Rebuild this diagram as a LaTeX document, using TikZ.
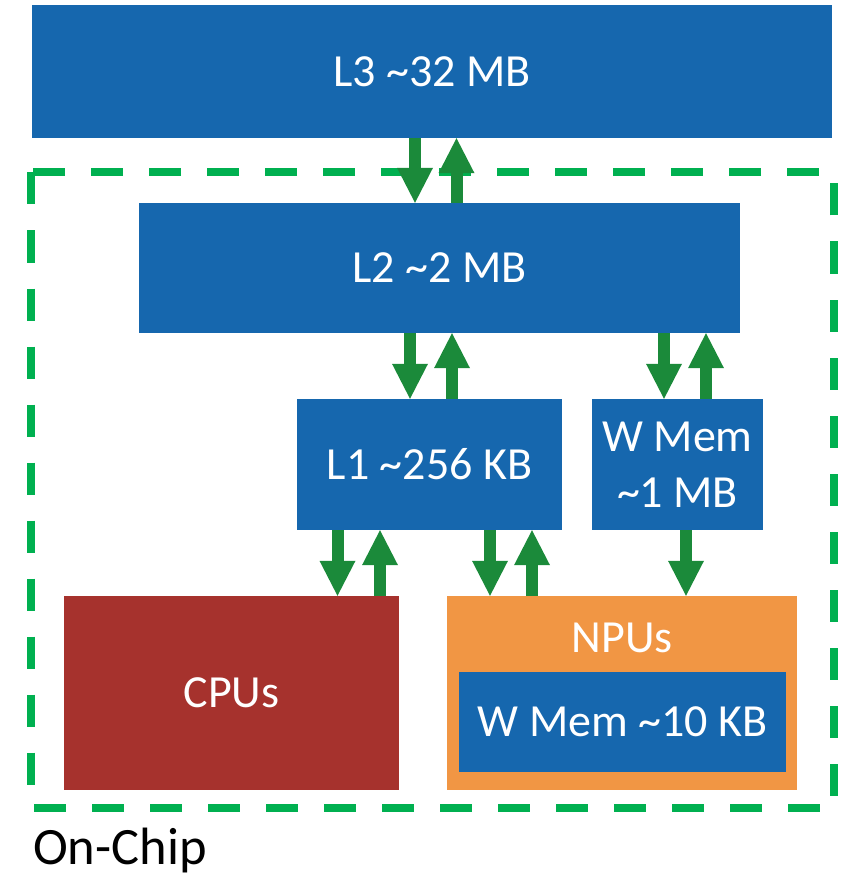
\documentclass[tikz,border=0pt]{standalone}
\usepackage{fontspec}
\setmainfont{Carlito}
\usetikzlibrary{arrows.meta}
\definecolor{memblue}{RGB}{22,103,174}
\definecolor{cpured}{RGB}{166,50,45}
\definecolor{npuorange}{RGB}{241,150,68}
\definecolor{chipgreen}{RGB}{0,176,80}
\definecolor{arrowgreen}{RGB}{27,138,58}
\tikzset{
  block/.style={fill=#1, draw=none, inner sep=0pt, text=white,
    font=\fontsize{46}{56}\selectfont, align=center},
  flow/.style={draw=arrowgreen, line width=12pt,
    -{Triangle[width=36pt,length=35pt,line width=0pt,fill=arrowgreen]}},
}
\begin{document}
\begin{tikzpicture}[x=1pt,y=-1pt]
\useasboundingbox (0,0) rectangle (842,877);

% on-chip boundary
\draw[chipgreen, line width=8pt, dash pattern=on 32pt off 26pt]
  (31,172.5) rectangle (834,807.5);

% memory hierarchy
\node[block=memblue, minimum width=800, minimum height=133] (l3) at (432,71.5) {L3 \textasciitilde32 MB};
\node[block=memblue, minimum width=601, minimum height=130] (l2) at (439.5,268) {L2 \textasciitilde2 MB};
\node[block=memblue, minimum width=265, minimum height=131] (l1) at (429.5,464.5) {L1 \textasciitilde256 KB};
\node[block=memblue, minimum width=171, minimum height=131] (wmem) at (677.5,464.5) {W Mem\\\textasciitilde1 MB};

% compute units
\node[block=cpured, minimum width=335, minimum height=194] (cpu) at (231.5,693) {CPUs};
\node[block=npuorange, minimum width=350, minimum height=194] (npu) at (622,693) {};
\node[text=white, font=\fontsize{46}{56}\selectfont, inner sep=0pt] (npulbl) at (622,638) {NPUs};
\node[block=memblue, minimum width=327, minimum height=100] (npumem) at (622.5,722) {W Mem \textasciitilde10 KB};

% data flow
\draw[flow] (l3.south -| 415,0) -- (l2.north -| 415,0);
\draw[flow] (l2.north -| 456.5,0) -- (l3.south -| 456.5,0);
\draw[flow] (l2.south -| 410,0) -- (l1.north -| 410,0);
\draw[flow] (l1.north -| 452,0) -- (l2.south -| 452,0);
\draw[flow] (l2.south -| 664,0) -- (wmem.north -| 664,0);
\draw[flow] (wmem.north -| 706,0) -- (l2.south -| 706,0);
\draw[flow] (l1.south -| 337.5,0) -- (cpu.north -| 337.5,0);
\draw[flow] (cpu.north -| 380,0) -- (l1.south -| 380,0);
\draw[flow] (l1.south -| 490,0) -- (npu.north -| 490,0);
\draw[flow] (npu.north -| 532,0) -- (l1.south -| 532,0);
\draw[flow] (wmem.south -| 686,0) -- (npu.north -| 686,0);

\node[anchor=base west, inner sep=0pt, font=\fontsize{52.5}{62}\selectfont] (chip) at (33,864) {On-Chip};
\end{tikzpicture}
\end{document}
